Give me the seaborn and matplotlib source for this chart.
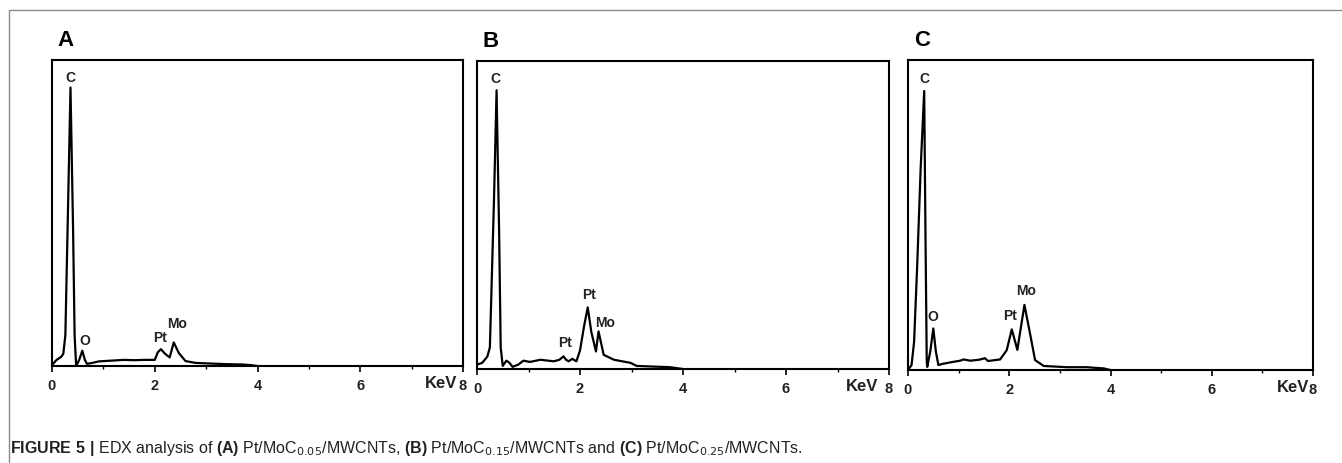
import numpy as np
import matplotlib
matplotlib.use('Agg')
import matplotlib.pyplot as plt
import matplotlib.transforms as mtransforms
from matplotlib.lines import Line2D
from matplotlib.ticker import MultipleLocator
import seaborn as sns

# =========================
# DATA (intensity as fraction of axis height)
# =========================
a_kev = [0, 0.09, 0.18, 0.22, 0.26, 0.30, 0.36, 0.41, 0.44, 0.47, 0.53, 0.59, 0.64,
         0.68, 0.78, 0.91, 1.0, 1.2, 1.4, 1.6, 1.8, 2.0, 2.06, 2.12, 2.2, 2.29, 2.37,
         2.47, 2.6, 2.8, 3.1, 3.4, 3.7, 3.87, 4.0]
a_cps = [0.003, 0.02, 0.03, 0.04, 0.10, 0.42, 0.91, 0.45, 0.10, 0.0, 0.02, 0.05, 0.02,
         0.007, 0.01, 0.015, 0.016, 0.018, 0.02, 0.019, 0.02, 0.02, 0.045, 0.055, 0.04,
         0.028, 0.077, 0.042, 0.016, 0.01, 0.008, 0.006, 0.005, 0.003, 0.0]

b_kev = [0, 0.1, 0.2, 0.25, 0.33, 0.38, 0.43, 0.46, 0.5, 0.57, 0.63, 0.69, 0.8, 0.9,
         1.03, 1.23, 1.49, 1.6, 1.68, 1.73, 1.78, 1.85, 1.93, 2.0, 2.08, 2.15, 2.22,
         2.31, 2.36, 2.46, 2.66, 2.98, 3.1, 3.4, 3.74, 4.0]
b_cps = [0.014, 0.02, 0.04, 0.07, 0.55, 0.905, 0.44, 0.07, 0.01, 0.027, 0.02, 0.007,
         0.014, 0.027, 0.023, 0.03, 0.025, 0.03, 0.041, 0.03, 0.025, 0.033, 0.025, 0.06,
         0.14, 0.20, 0.12, 0.057, 0.122, 0.046, 0.03, 0.02, 0.01, 0.008, 0.006, 0.0]

c_kev = [0, 0.07, 0.12, 0.18, 0.25, 0.32, 0.345, 0.37, 0.38, 0.44, 0.5, 0.55, 0.6,
         0.69, 0.85, 1.03, 1.1, 1.23, 1.4, 1.52, 1.58, 1.82, 1.95, 2.05, 2.16, 2.3,
         2.41, 2.51, 2.68, 3.14, 3.53, 3.87, 4.0]
c_cps = [0.0, 0.016, 0.09, 0.33, 0.65, 0.90, 0.44, 0.03, 0.01, 0.06, 0.134, 0.06,
         0.016, 0.02, 0.025, 0.03, 0.034, 0.03, 0.033, 0.038, 0.029, 0.034, 0.064,
         0.131, 0.065, 0.21, 0.118, 0.032, 0.013, 0.009, 0.009, 0.005, 0.0]

# peak labels: (text, keV, height)
a_peaks = [('C', 0.36, 0.94), ('O', 0.63, 0.083), ('Pt', 2.11, 0.09), ('Mo', 2.44, 0.137)]
b_peaks = [('C', 0.36, 0.94), ('Pt', 1.71, 0.084), ('Pt', 2.17, 0.241), ('Mo', 2.49, 0.149)]
c_peaks = [('C', 0.33, 0.94), ('O', 0.5, 0.17), ('Pt', 2.01, 0.174), ('Mo', 2.34, 0.256)]

panel_letters = ['A', 'B', 'C']
x_ticks = [0, 2, 4, 6, 8]

# =========================
# STYLE
# =========================
sns.set_theme(style='white')
plt.rcParams['font.family'] = ['Liberation Sans', 'DejaVu Sans']
plt.rcParams['mathtext.fontset'] = 'custom'
plt.rcParams['mathtext.rm'] = 'Liberation Sans Narrow'
plt.rcParams['mathtext.bf'] = 'Liberation Sans:bold'

fig = plt.figure(figsize=(13.42, 4.63), dpi=100)

# axes boxes in pixels: left, top, right, bottom
boxes = [(52, 60, 463, 366), (477, 61, 889, 369), (908, 60, 1313, 370)]
W, H = 1342, 463
kev_right = [7.88, 7.80, 7.92]

spectra = [(a_kev, a_cps, a_peaks), (b_kev, b_cps, b_peaks), (c_kev, c_cps, c_peaks)]

for i, ((kev, cps, peaks), (l, t, r, b)) in enumerate(zip(spectra, boxes)):
    ax = fig.add_axes([l / W, 1 - b / H, (r - l) / W, (b - t) / H])
    sns.lineplot(x=kev, y=cps, ax=ax, color='black', linewidth=1.6,
                 estimator=None, sort=False)
    ax.set_xlim(0, 8)
    ax.set_ylim(0, 1)
    ax.set_yticks([])
    ax.set_xticks(x_ticks)
    ax.set_xticklabels([str(v) for v in x_ticks], fontsize=10.5, fontweight='bold')
    ax.xaxis.set_minor_locator(MultipleLocator(1))
    ax.tick_params(axis='x', which='major', direction='out', length=4.5, width=1.2,
                   pad=5, bottom=True, colors='black', labelcolor='#222222')
    ax.tick_params(axis='x', which='minor', direction='out', length=2, width=1.0,
                   bottom=True, colors='black')
    for sp in ax.spines.values():
        sp.set_color('black')
        sp.set_linewidth(1.5)
    ax.set_xlabel('')
    ax.set_ylabel('')

    for txt, xk, yk in peaks:
        ax.text(xk, yk, txt, ha='center', va='center', fontsize=10,
                fontweight='bold', color='#222222')

    trans = mtransforms.blended_transform_factory(ax.transData, ax.transAxes)
    ax.text(kev_right[i], -0.058, 'KeV', transform=trans, ha='right', va='center',
            fontsize=12, fontweight='bold', color='#222222')

    ax.text(0.014, 1.046, panel_letters[i], transform=ax.transAxes, ha='left',
            va='baseline', fontsize=16, fontweight='bold', color='black')

# figure frame lines (top and left)
fig.add_artist(Line2D([9 / W, 1], [1 - 10 / H, 1 - 10 / H], color='#8a8a8a', lw=1.0))
fig.add_artist(Line2D([9 / W, 9 / W], [1 - 10 / H, 0], color='#8a8a8a', lw=1.0))

caption = (r'$\mathbf{FIGURE\ 5\ |}$ EDX analysis of $\mathbf{(A)}$ Pt/MoC$_{0.05}$/MWCNTs, '
           r'$\mathbf{(B)}$ Pt/MoC$_{0.15}$/MWCNTs and $\mathbf{(C)}$ Pt/MoC$_{0.25}$/MWCNTs.')
fig.text(10 / W, 1 - 448 / H, caption, ha='left', va='center', fontsize=11.5,
         family=['Liberation Sans Narrow', 'Liberation Sans'], color='#222222')

fig.savefig('out.png', dpi=100)
